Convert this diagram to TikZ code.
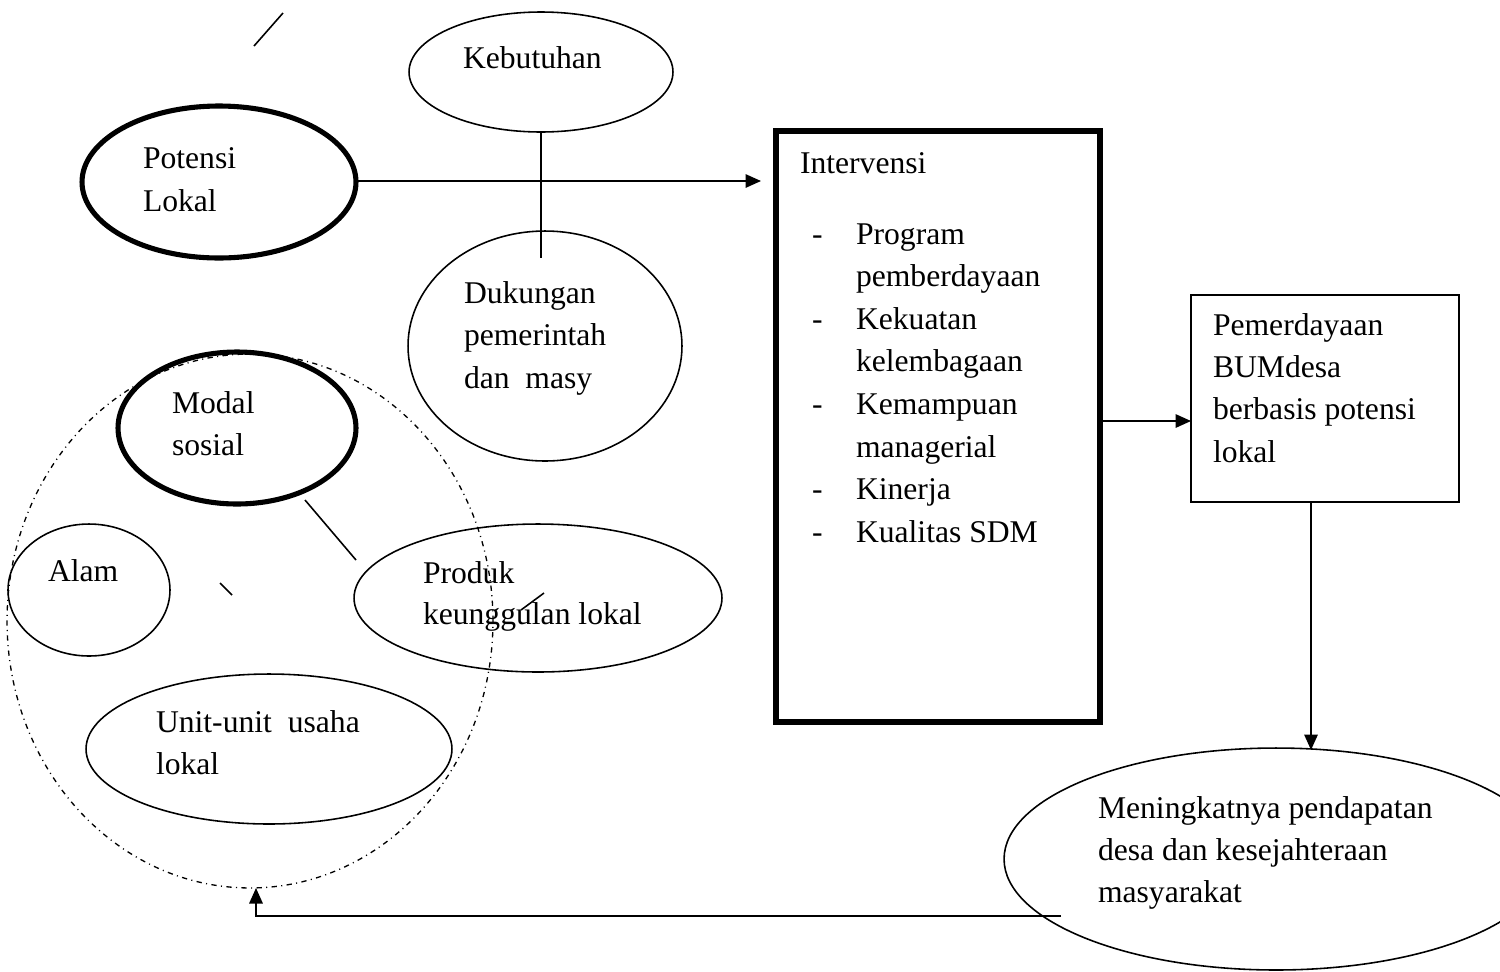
\documentclass[tikz,border=0pt]{standalone}
\usepackage{fontspec}
\setmainfont{Liberation Serif}
\usetikzlibrary{shapes.geometric,arrows.meta}
\begin{document}
\begin{tikzpicture}[x=0.02cm,y=-0.02cm,
  thinline/.style={line width=0.9pt},
  ell/.style={ellipse,draw,line width=0.9pt,inner sep=0pt,outer sep=0pt},
  thickell/.style={ell,line width=2.9pt},
  boxthick/.style={rectangle,draw,line width=3.2pt,inner sep=0pt,outer sep=0pt},
  boxthin/.style={rectangle,draw,line width=1.1pt,inner sep=0pt,outer sep=0pt},
  dashcirc/.style={ellipse,draw,line width=0.75pt,inner sep=0pt,outer sep=0pt,
    dash pattern=on 3pt off 2.5pt on 0.6pt off 2.5pt},
  txt/.style={anchor=base west,inner sep=0pt,outer sep=0pt,font=\fontsize{18}{24}\selectfont},
  arr/.style={line width=0.9pt,-{Triangle[length=0.31cm,width=0.27cm]}}
]
\useasboundingbox (0,0) rectangle (1500,971);

% shapes
\node[dashcirc,minimum width=9.72cm,minimum height=10.68cm] (circ) at (250,621) {};
\node[thickell,minimum width=5.48cm,minimum height=3.04cm] (pot) at (219,182) {};
\node[ell,minimum width=5.28cm,minimum height=2.4cm] (keb) at (541,72) {};
\node[ell,minimum width=5.48cm,minimum height=4.6cm] (duk) at (545,346) {};
\node[boxthick,minimum width=6.48cm,minimum height=11.82cm] (intv) at (938,426.5) {};
\node[boxthin,minimum width=5.36cm,minimum height=4.14cm] (pem) at (1325,398.5) {};
\node[ell,minimum width=10.88cm,minimum height=4.44cm] (men) at (1276,859) {};
\node[thickell,minimum width=4.76cm,minimum height=3.04cm] (mod) at (237,428) {};
\node[ell,minimum width=3.24cm,minimum height=2.64cm] (alam) at (89,590) {};
\node[ell,minimum width=7.36cm,minimum height=2.96cm] (prod) at (538,598) {};
\node[ell,minimum width=7.32cm,minimum height=3.0cm] (unit) at (269,749) {};

% texts
\node[txt] (tkeb) at (463,68) {Kebutuhan};
\node[txt] (tpot1) at (143,168) {Potensi};
\node[txt] (tpot2) at (143,211) {Lokal};
\node[txt] (tduk1) at (464,303) {Dukungan};
\node[txt] (tduk2) at (464,345) {pemerintah};
\node[txt] (tduk3) at (464,388) {dan~ masy};
\node[txt] (tint) at (800,173) {Intervensi};
\foreach \i/\y/\t in {1/244/Program,2/286.6/pemberdayaan,3/329.2/Kekuatan,4/371.8/kelembagaan,
                      5/414.4/Kemampuan,6/457/managerial,7/499.6/Kinerja,8/542.2/Kualitas SDM}{
  \node[txt] (item\i) at (856,\y) {\t};
}
\foreach \i/\y in {1/244,3/329.2,5/414.4,7/499.6,8/542.2}{
  \node[txt] (dash\i) at (812,\y) {-};
}
\node[txt] (tpem1) at (1213,335) {Pemerdayaan};
\node[txt] (tpem2) at (1213,377) {BUMdesa};
\node[txt] (tpem3) at (1213,419.5) {berbasis potensi};
\node[txt] (tpem4) at (1213,462) {lokal};
\node[txt] (tmod1) at (172,413) {Modal};
\node[txt] (tmod2) at (172,455) {sosial};
\node[txt] (talam) at (48,581) {Alam};
\node[txt] (tprod1) at (423,583) {Produk};
\node[txt] (tprod2) at (423,624) {keunggulan lokal};
\node[txt] (tunit1) at (156,732) {Unit-unit~ usaha};
\node[txt] (tunit2) at (156,774) {lokal};
\node[txt] (tmen1) at (1098,818) {Meningkatnya pendapatan};
\node[txt] (tmen2) at (1098,860) {desa dan kesejahteraan};
\node[txt] (tmen3) at (1098,902) {masyarakat};

% connector end points
\coordinate (potend) at (761,181);
\coordinate (dukin) at (541,258);
\coordinate (intout) at (1100,421);
\coordinate (pemout) at (1311,502);
\coordinate (menin) at (1311,750);
\coordinate (fbstart) at (1061,916);
\coordinate (fbend) at (256,888);
\coordinate (modout) at (305,500);
\coordinate (prodin) at (356,560);
\coordinate (s1a) at (254,46);
\coordinate (s1b) at (283,13);
\coordinate (s2a) at (220,583);
\coordinate (s2b) at (232,595);
\coordinate (s3a) at (521,610);
\coordinate (s3b) at (544,593);

% connectors
\draw[arr] (pot.east |- potend) -- (potend);
\draw[thinline] (keb.south) -- (dukin);
\draw[arr] (intout) -- (intout -| pem.west);
\draw[arr] (pemout) -- (menin);
\draw[arr] (fbstart) -| (fbend);
\draw[thinline] (modout) -- (prodin);
\draw[thinline] (s1a) -- (s1b);
\draw[thinline] (s2a) -- (s2b);
\draw[thinline] (s3a) -- (s3b);
\end{tikzpicture}
\end{document}
